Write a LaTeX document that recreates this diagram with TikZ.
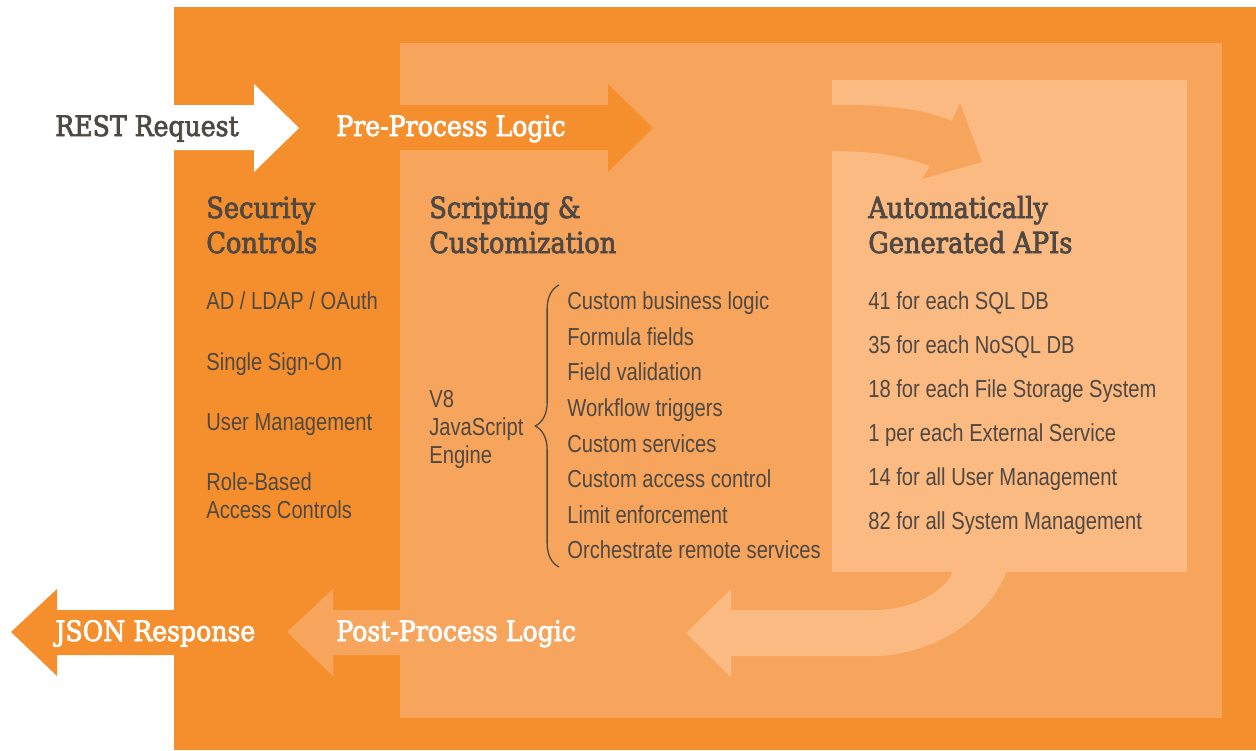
\documentclass[tikz,border=0pt]{standalone}
\usepackage{fontspec}
\usepackage{tikz}
\usetikzlibrary{decorations.pathreplacing}
\setmainfont{Liberation Sans}
\newfontfamily\slabfont[FakeStretch=0.885, FakeBold=2.6]{DejaVu Serif}
\newfontfamily\flowfont[FakeStretch=0.895, FakeBold=2.6]{DejaVu Serif}
\newfontfamily\narrowfont[FakeStretch=0.82]{Liberation Sans}
\definecolor{outerorange}{RGB}{245,143,46}
\definecolor{midorange}{RGB}{247,165,92}
\definecolor{paleorange}{RGB}{250,186,130}
\definecolor{textgray}{RGB}{80,72,66}

\begin{document}
\begin{tikzpicture}[x=0.02cm, y=-0.02cm,
  heading/.style = {font=\slabfont\fontsize{16.5}{19.5}\selectfont, text=textgray, anchor=base west, inner sep=0pt},
  flowlabel/.style = {font=\flowfont\fontsize{16}{19}\selectfont, anchor=base west, inner sep=0pt},
  item/.style = {font=\narrowfont\fontsize{14}{16}\selectfont, text=textgray, anchor=base west, inner sep=0pt}]
\useasboundingbox (0,0) rectangle (1256,750);

% panels
\fill[outerorange] (174,7) rectangle (1256,750);
\fill[midorange] (400,43) rectangle (1222,718);
\fill[paleorange] (832,80) rectangle (1187,572);

% request path
\fill[white] (174,105) -- (254,105) -- (254,84) -- (299,128) -- (254,172) -- (254,150) -- (174,150) -- cycle;
\fill[outerorange] (400,105) -- (608,105) -- (608,84) -- (653,128) -- (608,172) -- (608,150) -- (400,150) -- cycle;
\fill[midorange] (832,105) .. controls (890,104) and (925,110) .. (952,121) -- (960,103) -- (982,162) -- (922,179) -- (930,166) .. controls (900,155) and (870,151) .. (832,151) -- cycle;

% response path
\fill[paleorange] (952,565) -- (952,573) .. controls (945,590) and (915,610) .. (873,610) -- (731,610) -- (731,589) -- (686,633) -- (731,677) -- (731,656) -- (873,656) .. controls (925,656) and (985,625) .. (1006,573) -- (1006,565) -- cycle;
\fill[midorange] (400,610) -- (333,610) -- (333,589) -- (287,632) -- (333,676) -- (333,655) -- (400,655) -- cycle;
\fill[outerorange] (174,610) -- (57,610) -- (57,589) -- (11,632) -- (57,676) -- (57,655) -- (174,655) -- cycle;

\node[flowlabel, text=textgray] (rest) at (55,136) {REST Request};
\node[flowlabel, text=white] (pre) at (336,136) {Pre-Process Logic};
\node[flowlabel, text=white] (json) at (55,641) {JSON Response};
\node[flowlabel, text=white] (post) at (336,641) {Post-Process Logic};

% security column
\node[heading] (secHead) at (206,218) {Security};
\node[heading] (secHead2) at (206,253) {Controls};
\node[item] (ad) at (206,309) {AD / LDAP / OAuth};
\node[item] (sso) at (206,370) {Single Sign-On};
\node[item] (um) at (206,430) {User Management};
\node[item] (rb) at (206,490) {Role-Based};
\node[item] (rb2) at (206,518) {Access Controls};

% scripting column
\node[heading] (scrHead) at (429,218) {Scripting \&};
\node[heading] (scrHead2) at (429,253) {Customization};
\node[item] (v8) at (429,407) {V8};
\node[item] (js) at (429,435) {JavaScript};
\node[item] (eng) at (429,463) {Engine};
\node[item] (cbl) at (567,309) {Custom business logic};
\node[item] (ff) at (567,345) {Formula fields};
\node[item] (fv) at (567,380) {Field validation};
\node[item] (wt) at (567,416) {Workflow triggers};
\node[item] (cs) at (567,452) {Custom services};
\node[item] (cac) at (567,487) {Custom access control};
\node[item] (le) at (567,523) {Limit enforcement};
\node[item] (ors) at (567,558) {Orchestrate remote services};
\coordinate (braceTop) at (559,285);
\coordinate (braceBot) at (559,567);
\draw[textgray, line width=0.75pt, decorate, decoration={brace, amplitude=13.5pt}] (braceBot) -- (braceTop);

% api column
\node[heading] (apiHead) at (868,218) {Automatically};
\node[heading] (apiHead2) at (868,253) {Generated APIs};
\node[item] (sql) at (868,309) {41 for each SQL DB};
\node[item] (nosql) at (868,353) {35 for each NoSQL DB};
\node[item] (fss) at (868,397) {18 for each File Storage System};
\node[item] (ext) at (868,441) {1 per each External Service};
\node[item] (usr) at (868,485) {14 for all User Management};
\node[item] (sys) at (868,529) {82 for all System Management};
\end{tikzpicture}
\end{document}
